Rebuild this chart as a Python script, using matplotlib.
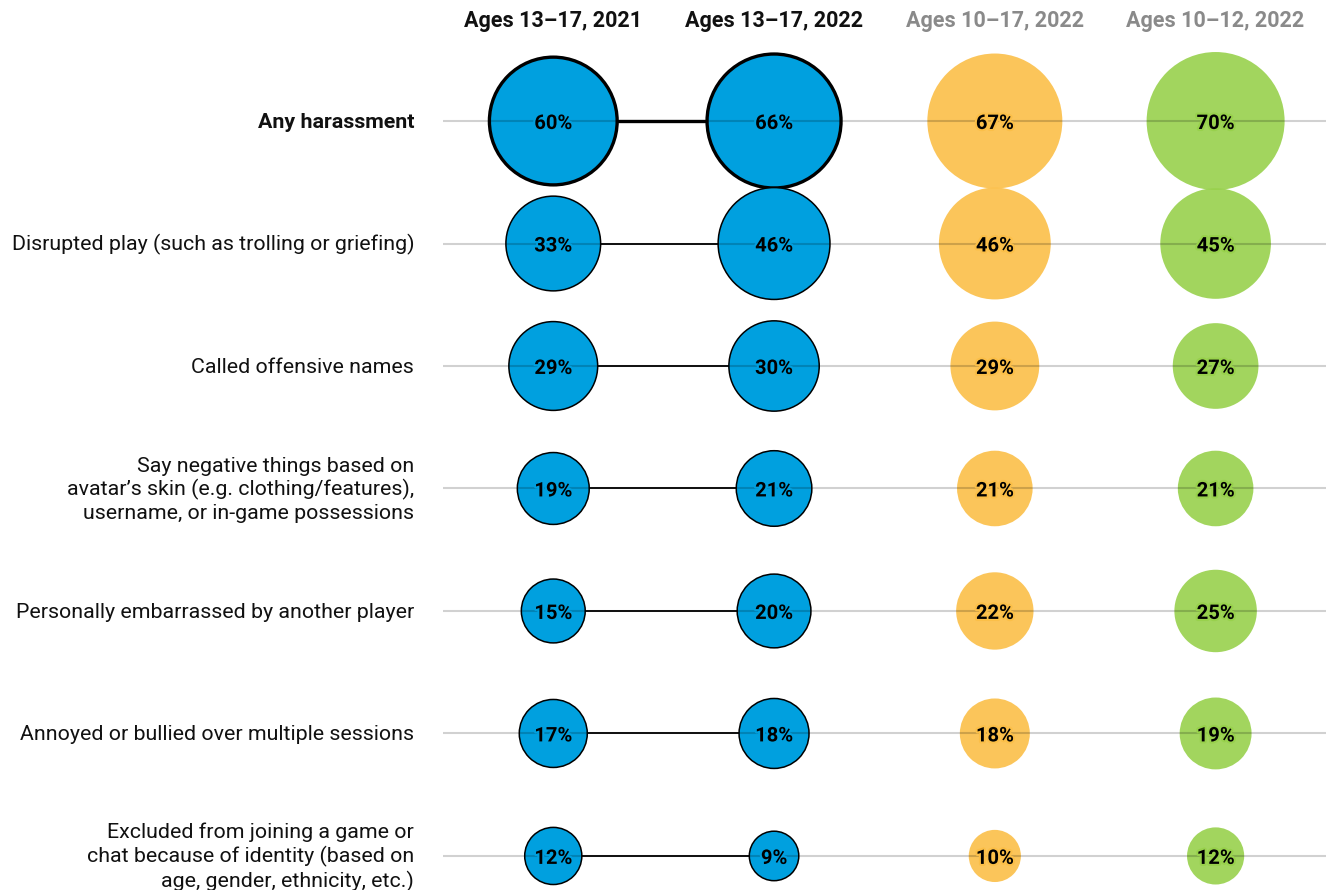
import matplotlib.pyplot as plt
import matplotlib.patheffects as pe

plt.rcParams['font.family'] = ['Roboto', 'DejaVu Sans']

# Data
groups = ["Ages 13\u201317, 2021", "Ages 13\u201317, 2022", "Ages 10\u201317, 2022", "Ages 10\u201312, 2022"]
categories = [
    "Any harassment",
    "Disrupted play (such as trolling or griefing)",
    "Called offensive names",
    "Say negative things based on\navatar\u2019s skin (e.g. clothing/features),\nusername, or in-game possessions",
    "Personally embarrassed by another player",
    "Annoyed or bullied over multiple sessions",
    "Excluded from joining a game or\nchat because of identity (based on\nage, gender, ethnicity, etc.)",
]
teens_2021 = [60, 33, 29, 19, 15, 17, 12]
teens_2022 = [66, 46, 30, 21, 20, 18, 9]
all_2022 = [67, 46, 29, 21, 22, 18, 10]
kids_2022 = [70, 45, 27, 21, 25, 19, 12]
series = [teens_2021, teens_2022, all_2022, kids_2022]

colors = ['#00A0DF', '#00A0DF', '#FBBF48', '#98D14C']
header_colors = ['#111111', '#111111', '#8a8a8a', '#8a8a8a']

fig = plt.figure(figsize=(13.26, 8.90), dpi=100)
ax = fig.add_axes([0.334, 0, 0.666, 1])
ax.set_xlim(-0.5, 3.5)
ax.set_ylim(6.278, -0.988)
ax.axis('off')

rows = list(range(len(categories)))

# gridlines
for r in rows:
    ax.axhline(r, color='black', alpha=0.18, lw=1.5, zorder=3)

# connectors between the two teen columns
for r in rows:
    lw = 2.4 if r == 0 else 1.3
    ax.plot([0, 1], [r, r], color='black', lw=lw, zorder=1, solid_capstyle='butt')

# bubbles, area proportional to value
for i, vals in enumerate(series):
    sizes = [141 * v for v in vals]
    if i < 2:
        lws = [2.4 if r == 0 else 1.1 for r in rows]
        ax.scatter([i] * len(vals), rows, s=sizes, color=colors[i],
                   edgecolors='black', linewidths=lws, zorder=2)
    else:
        ax.scatter([i] * len(vals), rows, s=sizes, color=colors[i],
                   alpha=0.9, linewidths=0, zorder=2)
    for r, v in zip(rows, vals):
        ax.text(i, r + 0.02, f"{v}%", ha='center', va='center', fontsize=14.5,
                fontweight='bold', color='black', zorder=5,
                path_effects=[pe.withStroke(linewidth=3, foreground=colors[i])])

# column headers
for i, g in enumerate(groups):
    ax.text(i, -0.82, g, ha='center', va='center', fontsize=15.5,
            fontweight='bold', color=header_colors[i], clip_on=False)

# row labels
for r, c in enumerate(categories):
    ax.text(-0.63, r + 0.01, c, ha='right', va='center', fontsize=15.4,
            fontweight='bold' if r == 0 else 'normal', color='#111111',
            linespacing=1.22, clip_on=False)

fig.savefig('out.png', dpi=100)
